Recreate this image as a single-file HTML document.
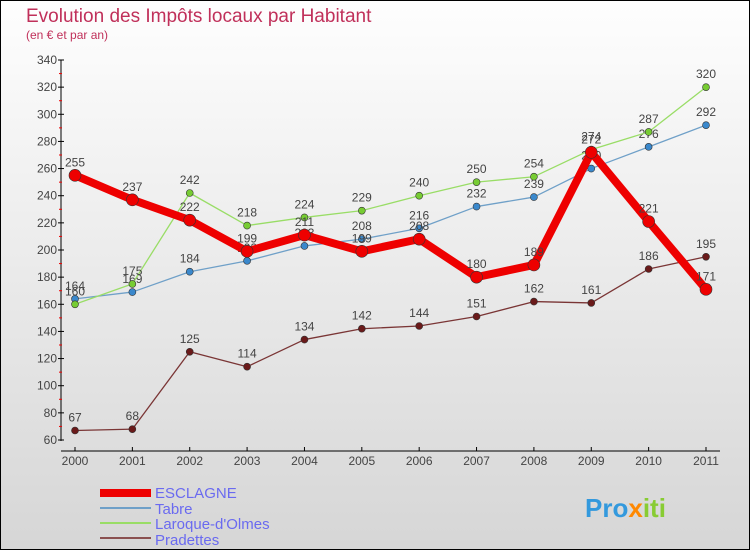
<!DOCTYPE html>
<html><head><meta charset="utf-8"><style>
body{margin:0}
#c{width:750px;height:550px;position:relative;box-sizing:border-box;border:1px solid #000;background:linear-gradient(#fefefe,#d6d6d6);font-family:"Liberation Sans",sans-serif;overflow:hidden}
</style></head><body>
<div id="c">
<svg id="s" width="750" height="550" style="position:absolute;left:-1px;top:-1px">
<text x="26" y="22" font-size="19" fill="#c0305a">Evolution des Impôts locaux par Habitant</text>
<text x="26" y="39" font-size="12" fill="#c0305a">(en € et par an)</text>
<g id="axes"></g><g id="series"></g>
<g>
<rect x="100" y="489" width="51" height="8" fill="#ee0000"/>
<text x="155" y="498" font-size="15" fill="#6a6af0">ESCLAGNE</text>
<rect x="100" y="507" width="51" height="2" fill="#6fa0c8"/>
<text x="155" y="514" font-size="15" fill="#6a6af0">Tabre</text>
<rect x="100" y="522" width="51" height="2" fill="#99dd66"/>
<text x="155" y="529" font-size="15" fill="#6a6af0">Laroque-d'Olmes</text>
<rect x="100" y="537" width="51" height="2" fill="#8a5050"/>
<text x="155" y="545" font-size="15" fill="#6a6af0">Pradettes</text>
</g>
<text x="585" y="517" font-size="26" font-weight="bold" fill="#3399dd">Pro<tspan fill="#ff8800">x</tspan><tspan fill="#88cc33">iti</tspan></text>
</svg></div>
<script>
const years=[2000,2001,2002,2003,2004,2005,2006,2007,2008,2009,2010,2011];
const yTicks=[60,80,100,120,140,160,180,200,220,240,260,280,300,320,340];
const esclagne=[255,237,222,199,211,199,208,180,189,272,221,171];
const tabre=[164,169,184,192,203,208,216,232,239,260,276,292];
const laroque=[160,175,242,218,224,229,240,250,254,274,287,320];
const pradettes=[67,68,125,114,134,142,144,151,162,161,186,195];
const NS="http://www.w3.org/2000/svg";
const X=i=>75+i*(706-75)/(years.length-1);
const Y=v=>440-(v-60)*(380/280);
function mk(t,a,p){const e=document.createElementNS(NS,t);for(const k in a)e.setAttribute(k,a[k]);p.appendChild(e);return e;}
const ax=document.getElementById('axes');
let l=mk('line',{x1:61,y1:60,x2:61,y2:441,stroke:'#000'},ax);


l=mk('line',{x1:61,y1:451,x2:720,y2:451,stroke:'#000'},ax);


yTicks.forEach((v,i)=>{
 mk('line',{x1:58,y1:Y(v),x2:64,y2:Y(v),stroke:'#000'},ax);
 if(i<yTicks.length-1)mk('line',{x1:59,y1:Y(v+10),x2:62,y2:Y(v+10),stroke:'#e00'},ax);
 const t=mk('text',{x:57,y:Y(v)+4,'font-size':12,fill:'#444','text-anchor':'end'},ax);t.textContent=v;
 
 
});
years.forEach((y,i)=>{
 mk('line',{x1:X(i),y1:447,x2:X(i),y2:451,stroke:'#000'},ax);
 const t=mk('text',{x:X(i),y:465,'font-size':12,fill:'#444','text-anchor':'middle'},ax);t.textContent=y;
 
 
});
const sg=document.getElementById('series');
function series(data,name,color,w,dot,dotFill){
 const g=mk('g',{},sg);
 
 
 const p=mk('polyline',{points:data.map((v,i)=>X(i)+','+Y(v)).join(' '),fill:'none',stroke:color,'stroke-width':w,'stroke-linejoin':'round'},g);
 
 
 data.forEach((v,i)=>{
  const c=mk('circle',{cx:X(i),cy:Y(v),r:dot,fill:dotFill,stroke:'#333','stroke-width':0.6},g);
  
  
  const t=mk('text',{x:X(i),y:Y(v)-9,'font-size':12,fill:'#444','text-anchor':'middle'},g);t.textContent=v;
  
  
 });
}
series(pradettes,'pradettes','#7a3535',1.3,3.5,'#6a1a1a');
series(tabre,'tabre','#6fa0c8',1.3,3.5,'#3a88cc');
series(laroque,'laroque','#99dd66',1.3,3.5,'#77cc33');
series(esclagne,'esclagne','#ee0000',8,6,'#ee0000');
</script>
</body></html>
